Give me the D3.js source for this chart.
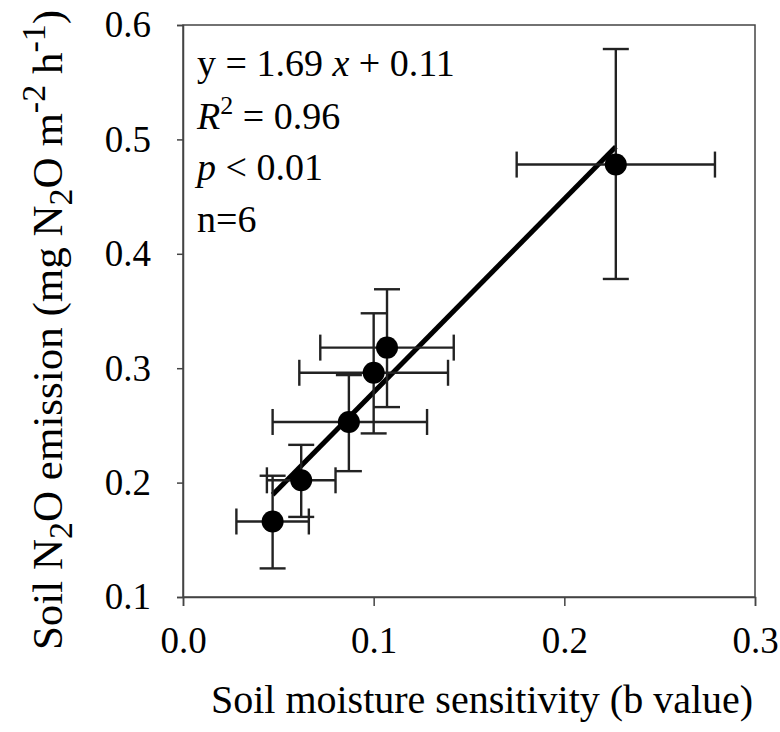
<!DOCTYPE html>
<html>
<head>
<meta charset="utf-8">
<script src="https://cdn.jsdelivr.net/npm/d3@7"></script>
<style>
  body { margin: 0; background: #fff; }
  svg text { font-family: "Liberation Serif", "DejaVu Serif", serif; fill: #000; }
</style>
</head>
<body>
<div id="chart"></div>
<script>
// datos
const xVals = [0.047, 0.062, 0.087, 0.100, 0.107, 0.227];
const yVals = [0.166, 0.202, 0.253, 0.296, 0.318, 0.478];
const xLow  = [0.028, 0.044, 0.047, 0.061, 0.072, 0.175];
const xHigh = [0.066, 0.080, 0.128, 0.139, 0.142, 0.279];
const yLow  = [0.125, 0.170, 0.210, 0.243, 0.266, 0.378];
const yHigh = [0.206, 0.233, 0.294, 0.348, 0.369, 0.579];
const xTicks = [0.0, 0.1, 0.2, 0.3];
const yTicks = [0.1, 0.2, 0.3, 0.4, 0.5, 0.6];
const slope = 1.69;
const intercept = 0.11;

const width = 780;
const height = 732;
const margin = { top: 25, right: 25, bottom: 135, left: 183 };

const svg = d3.select('#chart')
    .append('svg')
    .attr('width', width)
    .attr('height', height);

const xScale = d3.scaleLinear().domain([0, 0.3]).range([margin.left, width - margin.right]);
const yScale = d3.scaleLinear().domain([0.1, 0.6]).range([height - margin.bottom, margin.top]);

// marco
svg.append('rect')
    .attr('x', xScale(0))
    .attr('y', yScale(0.6))
    .attr('width', xScale(0.3) - xScale(0))
    .attr('height', yScale(0.1) - yScale(0.6))
    .attr('fill', 'none')
    .attr('stroke', '#444')
    .attr('stroke-width', 1.5);

// ejes
const xAxis = svg.append('g')
    .attr('transform', `translate(0,${yScale(0.1)})`)
    .call(d3.axisBottom(xScale).tickValues(xTicks).tickFormat(d3.format('.1f')).tickSize(9).tickPadding(21));

const yAxis = svg.append('g')
    .attr('transform', `translate(${xScale(0)},0)`)
    .call(d3.axisLeft(yScale).tickValues(yTicks).tickFormat(d3.format('.1f')).tickSize(6).tickPadding(26));

[xAxis, yAxis].forEach(g => {
    g.select('.domain').attr('stroke', '#444').attr('stroke-width', 1.5);
    g.selectAll('.tick line').attr('stroke', '#444').attr('stroke-width', 1.5);
    g.selectAll('.tick text').style('font-size', '37px').attr('fill', '#000');
});

// títulos
svg.append('text')
    .attr('x', 482)
    .attr('y', 713)
    .attr('text-anchor', 'middle')
    .style('font-size', '40px')
    .text('Soil moisture sensitivity (b value)');

const yTitle = svg.append('text')
    .attr('transform', `translate(62,330) rotate(-90)`)
    .attr('text-anchor', 'middle')
    .style('font-size', '43px');
yTitle.append('tspan').text('Soil N');
yTitle.append('tspan').attr('dy', 10).style('font-size', '34px').text('2');
yTitle.append('tspan').attr('dy', -10).text('O emission (mg N');
yTitle.append('tspan').attr('dy', 10).style('font-size', '34px').text('2');
yTitle.append('tspan').attr('dy', -10).text('O m');
yTitle.append('tspan').attr('dy', -17).style('font-size', '34px').text('-2');
yTitle.append('tspan').attr('dy', 17).text(' h');
yTitle.append('tspan').attr('dy', -17).style('font-size', '34px').text('-1');
yTitle.append('tspan').attr('dy', 17).text(')');

// recta de regresión
const xMin = d3.min(xVals);
const xMax = d3.max(xVals);
svg.append('line')
    .attr('x1', xScale(xMin))
    .attr('y1', yScale(slope * xMin + intercept))
    .attr('x2', xScale(xMax))
    .attr('y2', yScale(slope * xMax + intercept))
    .attr('stroke', '#000')
    .attr('stroke-width', 5);

// barras de error
const data = xVals.map((x, i) => ({ x, y: yVals[i], x0: xLow[i], x1: xHigh[i], y0: yLow[i], y1: yHigh[i] }));
const cap = 13;
const err = svg.append('g').attr('stroke', '#222').attr('stroke-width', 2.4);
data.forEach(d => {
    err.append('line').attr('x1', xScale(d.x)).attr('x2', xScale(d.x)).attr('y1', yScale(d.y0)).attr('y2', yScale(d.y1));
    err.append('line').attr('x1', xScale(d.x) - cap).attr('x2', xScale(d.x) + cap).attr('y1', yScale(d.y0)).attr('y2', yScale(d.y0));
    err.append('line').attr('x1', xScale(d.x) - cap).attr('x2', xScale(d.x) + cap).attr('y1', yScale(d.y1)).attr('y2', yScale(d.y1));
    err.append('line').attr('x1', xScale(d.x0)).attr('x2', xScale(d.x1)).attr('y1', yScale(d.y)).attr('y2', yScale(d.y));
    err.append('line').attr('x1', xScale(d.x0)).attr('x2', xScale(d.x0)).attr('y1', yScale(d.y) - cap).attr('y2', yScale(d.y) + cap);
    err.append('line').attr('x1', xScale(d.x1)).attr('x2', xScale(d.x1)).attr('y1', yScale(d.y) - cap).attr('y2', yScale(d.y) + cap);
});

// puntos
svg.selectAll('circle')
    .data(data)
    .enter()
    .append('circle')
    .attr('cx', d => xScale(d.x))
    .attr('cy', d => yScale(d.y))
    .attr('r', 11)
    .attr('fill', '#000');

// anotación
const ann = svg.append('g').style('font-size', '38px');
const t1 = ann.append('text').attr('x', 197).attr('y', 76);
t1.append('tspan').text('y = 1.69 ');
t1.append('tspan').style('font-style', 'italic').text('x');
t1.append('tspan').text(' + 0.11');
const t2 = ann.append('text').attr('x', 197).attr('y', 129);
t2.append('tspan').style('font-style', 'italic').text('R');
t2.append('tspan').attr('dy', -15).style('font-size', '26px').text('2');
t2.append('tspan').attr('dy', 15).text(' = 0.96');
const t3 = ann.append('text').attr('x', 197).attr('y', 180);
t3.append('tspan').style('font-style', 'italic').text('p');
t3.append('tspan').text(' < 0.01');
ann.append('text').attr('x', 197).attr('y', 232).text('n=6');
</script>
</body>
</html>
